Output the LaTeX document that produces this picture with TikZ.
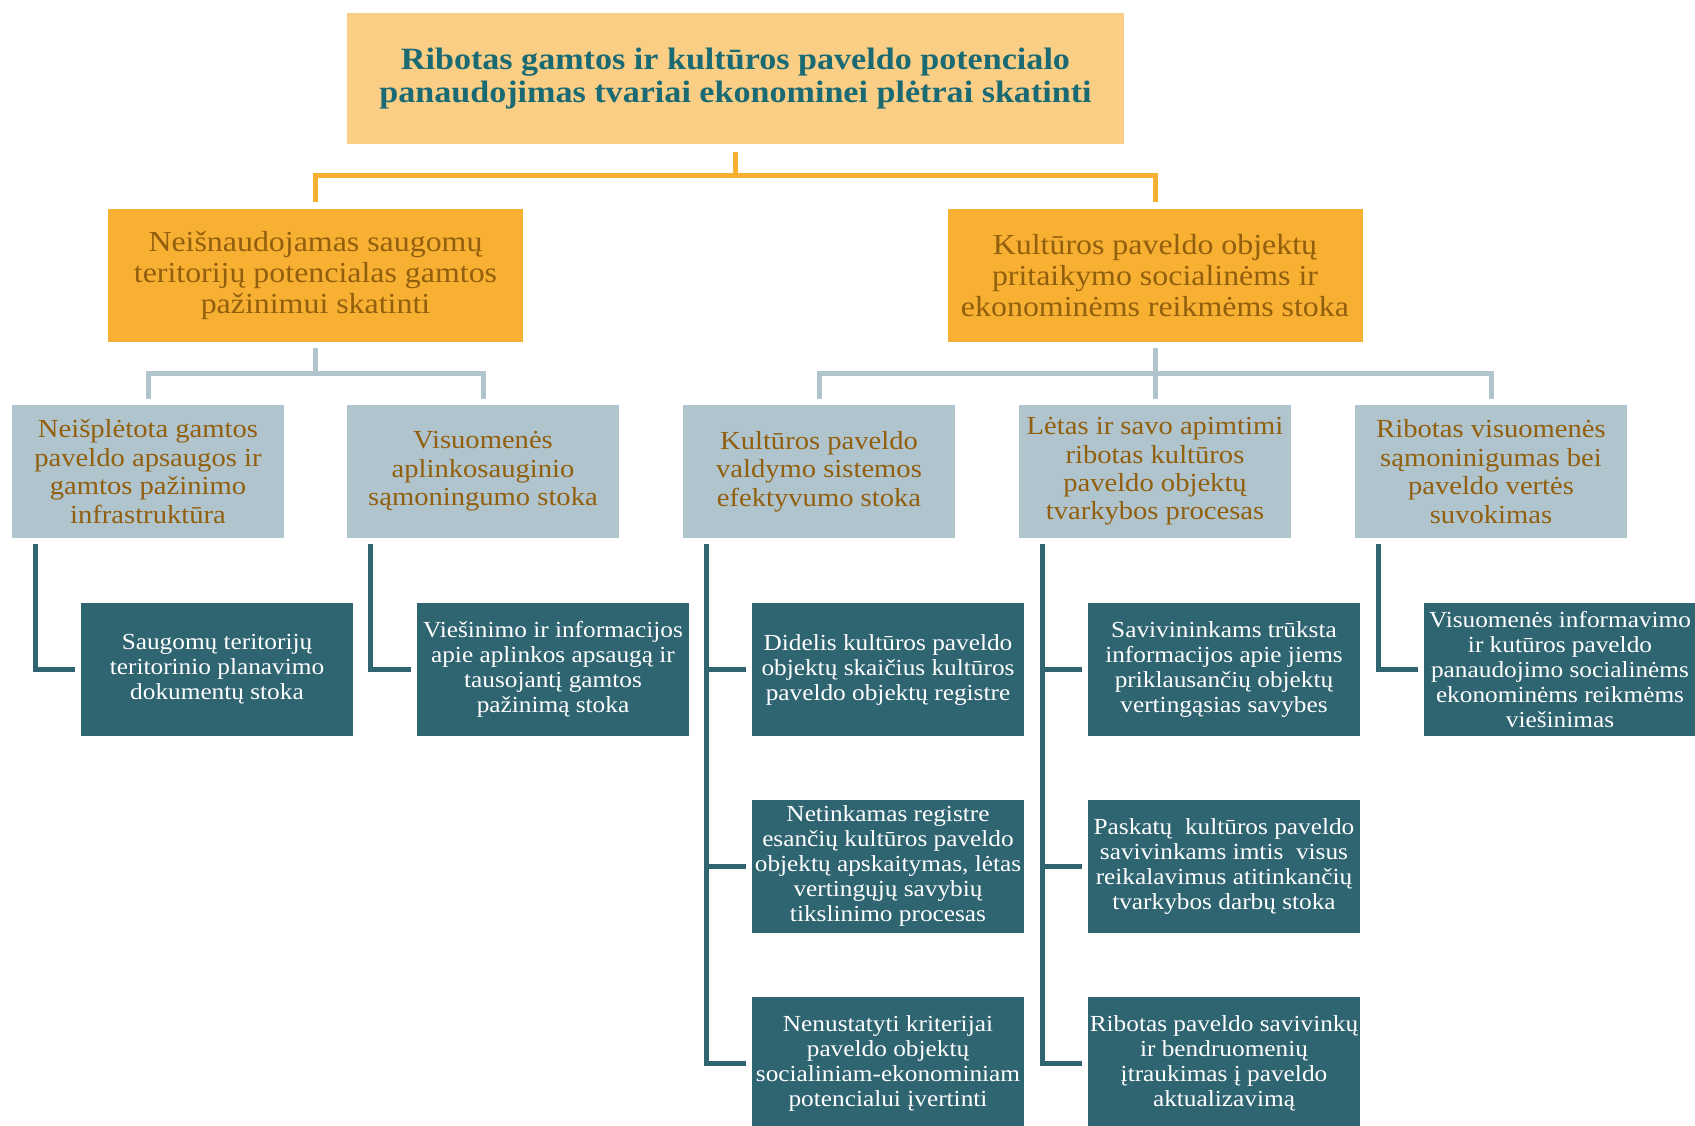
\documentclass[tikz,border=0pt]{standalone}
\usepackage{fontspec}
\setmainfont{Liberation Serif}[FakeStretch=1.1]
\usetikzlibrary{calc}

\definecolor{topfill}{HTML}{FBCE86}
\definecolor{probfill}{HTML}{F7B031}
\definecolor{causefill}{HTML}{AFC4CC}
\definecolor{subfill}{HTML}{2F6471}
\definecolor{titleteal}{HTML}{1A6A73}
\definecolor{browntxt}{HTML}{925F0E}

\begin{document}
\begin{tikzpicture}[x=0.5pt, y=-0.5pt,
  topbox/.style={fill=topfill, minimum width=388.5pt, minimum height=65.5pt, inner sep=0pt, align=center, text=titleteal, font=\bfseries\fontsize{15.5}{16.5}\selectfont},
  probbox/.style={fill=probfill, minimum width=207.5pt, minimum height=66.5pt, inner sep=0pt, align=center, text=browntxt, font=\fontsize{14.5}{15.5}\selectfont},
  causebox/.style={fill=causefill, minimum width=136pt, minimum height=66.5pt, inner sep=0pt, align=center, text=browntxt, font=\fontsize{13}{14.2}\selectfont},
  subbox/.style={fill=subfill, minimum width=136pt, minimum height=66.5pt, inner sep=0pt, align=center, text=white, font=\fontsize{11.5}{12.5}\selectfont},
  orline/.style={draw=probfill, line width=2.5pt},
  grline/.style={draw=causefill, line width=2.5pt},
  tlline/.style={draw=subfill, line width=2.5pt}]
\useasboundingbox (0,0) rectangle (1695,1125);
\fill[white] (0,0) rectangle (1695,1125);

% main problem
\node[topbox] (top) at (735.5,78.5) {Ribotas gamtos ir kultūros paveldo potencialo\\panaudojimas tvariai ekonominei plėtrai skatinti};

% problems
\node[probbox] (pa) at (315.5,275.5) {Neišnaudojamas saugomų\\teritorijų potencialas gamtos\\pažinimui skatinti};
\node[probbox] (pb) at (1155,275.5) {Kultūros paveldo objektų\\pritaikymo socialinėms ir\\ekonominėms reikmėms stoka};

% causes
\node[causebox] (ca) at (148,471.5) {Neišplėtota gamtos\\paveldo apsaugos ir\\gamtos pažinimo\\infrastruktūra};
\node[causebox] (cb) at (483,471.5) {Visuomenės\\aplinkosauginio\\sąmoningumo stoka};
\node[causebox] (cc) at (819,471.5) {Kultūros paveldo\\valdymo sistemos\\efektyvumo stoka};
\node[causebox] (cd) at (1155,471.5) {Lėtas ir savo apimtimi\\ribotas kultūros\\paveldo objektų\\tvarkybos procesas};
\node[causebox] (ce) at (1491,471.5) {Ribotas visuomenės\\sąmoninigumas bei\\paveldo vertės\\suvokimas};

% sub-causes
\node[subbox] (sa) at (217,669.5) {Saugomų teritorijų\\teritorinio planavimo\\dokumentų stoka};
\node[subbox] (sb) at (553,669.5) {Viešinimo ir informacijos\\apie aplinkos apsaugą ir\\tausojantį gamtos\\pažinimą stoka};
\node[subbox] (sc1) at (888,669.5) {Didelis kultūros paveldo\\objektų skaičius kultūros\\paveldo objektų registre};
\node[subbox] (sc2) at (888,866) {Netinkamas registre\\esančių kultūros paveldo\\objektų apskaitymas, lėtas\\vertingųjų savybių\\tikslinimo procesas};
\node[subbox] (sc3) at (888,1063.5) {Nenustatyti kriterijai\\paveldo objektų\\socialiniam-ekonominiam\\potencialui įvertinti};
\node[subbox] (sd1) at (1224,669.5) {Savivininkams trūksta\\informacijos apie jiems\\priklausančių objektų\\vertingąsias savybes};
\node[subbox] (sd2) at (1224,866) {Paskatų\ \ kultūros paveldo\\savivinkams imtis\ \ visus\\reikalavimus atitinkančių\\tvarkybos darbų stoka};
\node[subbox] (sd3) at (1224,1063.5) {Ribotas paveldo savivinkų\\ir bendruomenių\\įtraukimas į paveldo\\aktualizavimą};
\node[subbox] (se) at (1560,669.5) {Visuomenės informavimo\\ir kutūros paveldo\\panaudojimo socialinėms\\ekonominėms reikmėms\\viešinimas};

% orange tree
\coordinate (tj) at (735.5,175);
\draw[orline] ($(top.south)+(0,8)$) -- (tj) -| ($(pa.north)+(0,-7)$);
\draw[orline] (tj) -| ($(pb.north)+(0,-7)$);

% grey tree
\coordinate (gja) at (315.5,373);
\coordinate (gjb) at (1155,373);
\draw[grline] ($(pa.south)+(0,6)$) -- (gja) -| ($(ca.north)+(0,-6)$);
\draw[grline] (gja) -| ($(cb.north)+(0,-6)$);
\draw[grline] ($(pb.south)+(0,6)$) -- (gjb) -| ($(cc.north)+(0,-6)$);
\draw[grline] (gjb) -- ($(cd.north)+(0,-6)$);
\draw[grline] (gjb) -| ($(ce.north)+(0,-6)$);

% teal brackets
\draw[tlline] ($(ca.south west)+(24,6)$) |- ($(sa.west)+(-6,0)$);
\draw[tlline] ($(cb.south west)+(24,6)$) |- ($(sb.west)+(-6,0)$);
\draw[tlline] ($(cc.south west)+(24,6)$) |- ($(sc3.west)+(-6,0)$);
\draw[tlline] ($(cc.south west)+(24,6)$) |- ($(sc1.west)+(-6,0)$);
\draw[tlline] ($(cc.south west)+(24,6)$) |- ($(sc2.west)+(-6,0)$);
\draw[tlline] ($(cd.south west)+(24,6)$) |- ($(sd3.west)+(-6,0)$);
\draw[tlline] ($(cd.south west)+(24,6)$) |- ($(sd1.west)+(-6,0)$);
\draw[tlline] ($(cd.south west)+(24,6)$) |- ($(sd2.west)+(-6,0)$);
\draw[tlline] ($(ce.south west)+(24,6)$) |- ($(se.west)+(-6,0)$);
\end{tikzpicture}
\end{document}
